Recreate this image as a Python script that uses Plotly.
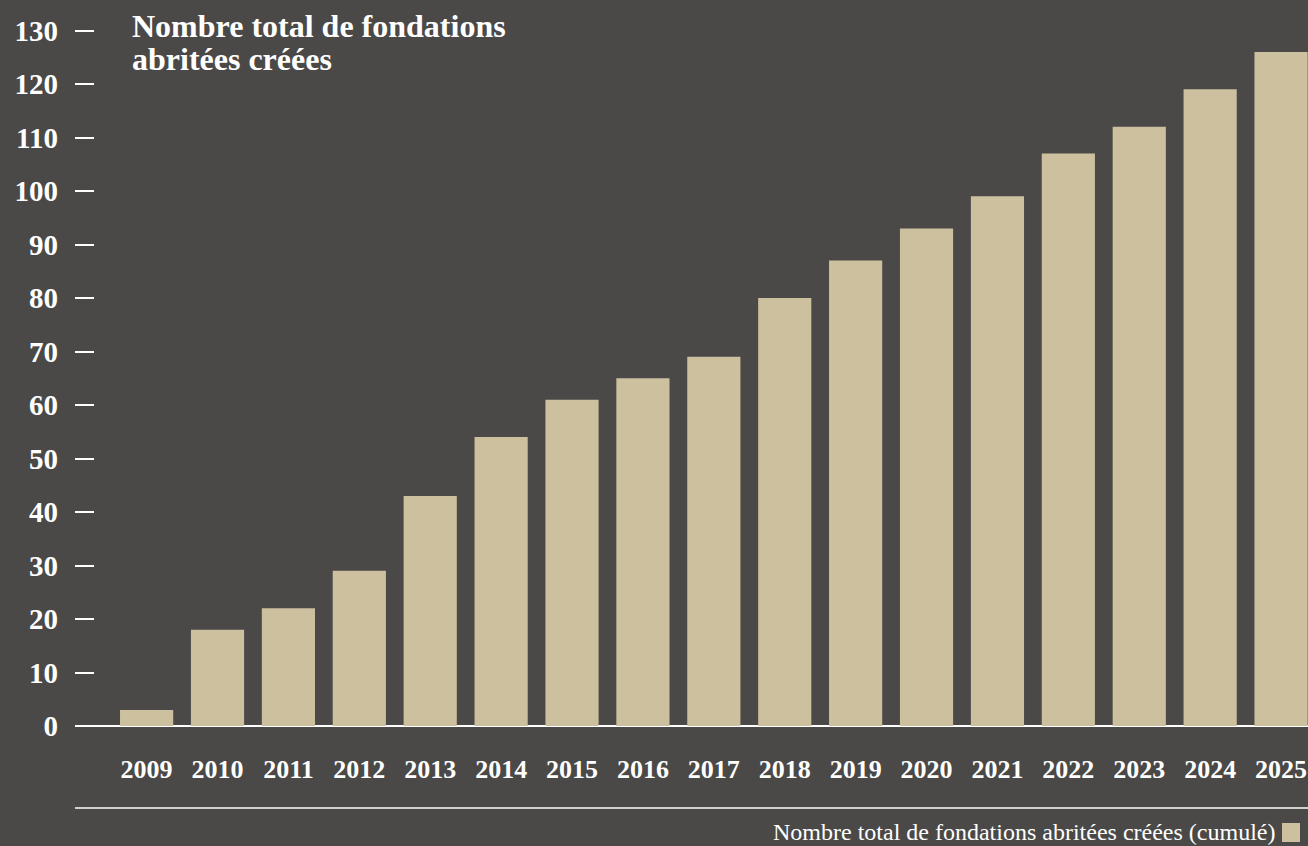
import plotly.graph_objects as go

years = [str(y) for y in range(2009, 2026)]
totals = [3, 18, 22, 29, 43, 54, 61, 65, 69, 80, 87, 93, 99, 107, 112, 119, 126]
y_ticks = list(range(0, 131, 10))

BG = "#4a4947"
BAR = "#cdc09f"
FONT = "Liberation Serif"

fig = go.Figure()
fig.add_trace(go.Bar(
    x=years, y=totals, marker=dict(color=BAR, line=dict(width=0)),
    name="Nombre total de fondations abritées créées (cumulé)",
    showlegend=False, hoverinfo="x+y",
))

fig.update_layout(
    width=1308, height=846,
    margin=dict(l=75, r=0, t=0, b=120),
    paper_bgcolor=BG, plot_bgcolor=BG,
    bargap=0.25,
    font=dict(family=FONT, color="white"),
    xaxis=dict(
        type="category", range=[-1.01, 16.38],
        showgrid=False, zeroline=False, showline=False,
        ticks="", ticklabelstandoff=25,
        tickfont=dict(family=FONT, size=26, color="white", weight="bold"),
        fixedrange=True,
    ),
    yaxis=dict(
        range=[0, 135.7], tickvals=y_ticks,
        showgrid=False, zeroline=True, zerolinecolor="white", zerolinewidth=2,
        showline=False,
        ticks="inside", ticklen=19, tickwidth=2, tickcolor="white",
        ticklabelstandoff=16,
        tickfont=dict(family=FONT, size=29, color="white", weight="bold"),
        fixedrange=True,
    ),
)

fig.add_annotation(xref="paper", yref="paper", x=(130 - 75) / 1233, y=1 - 6 / 726,
                   xanchor="left", yanchor="top", showarrow=False,
                   text="Nombre total de fondations",
                   font=dict(family=FONT, size=32, color="white", weight="bold"))
fig.add_annotation(xref="paper", yref="paper", x=(130 - 75) / 1233, y=1 - 39 / 726,
                   xanchor="left", yanchor="top", showarrow=False,
                   text="abritées créées",
                   font=dict(family=FONT, size=32, color="white", weight="bold"))

# bottom separator line
fig.add_shape(type="line", xref="paper", yref="paper",
              x0=0, x1=1, y0=-(808 - 726) / 726, y1=-(808 - 726) / 726,
              line=dict(color="white", width=1.5))

# legend: text + swatch on the right
fig.add_annotation(xref="paper", yref="paper", x=(1277 - 75) / 1233, y=-(832 - 726) / 726,
                   xanchor="right", yanchor="middle", showarrow=False,
                   text="Nombre total de fondations abritées créées (cumulé)",
                   font=dict(family=FONT, size=24, color="white"))
fig.add_shape(type="rect", xref="paper", yref="paper",
              x0=(1282 - 75) / 1233, x1=(1300 - 75) / 1233,
              y0=-(842 - 726) / 726, y1=-(823 - 726) / 726,
              fillcolor=BAR, line=dict(width=0))

fig.write_html("out.html", config={"displayModeBar": False},
               post_script="document.body.style.margin='0';document.body.style.overflow='hidden';")
